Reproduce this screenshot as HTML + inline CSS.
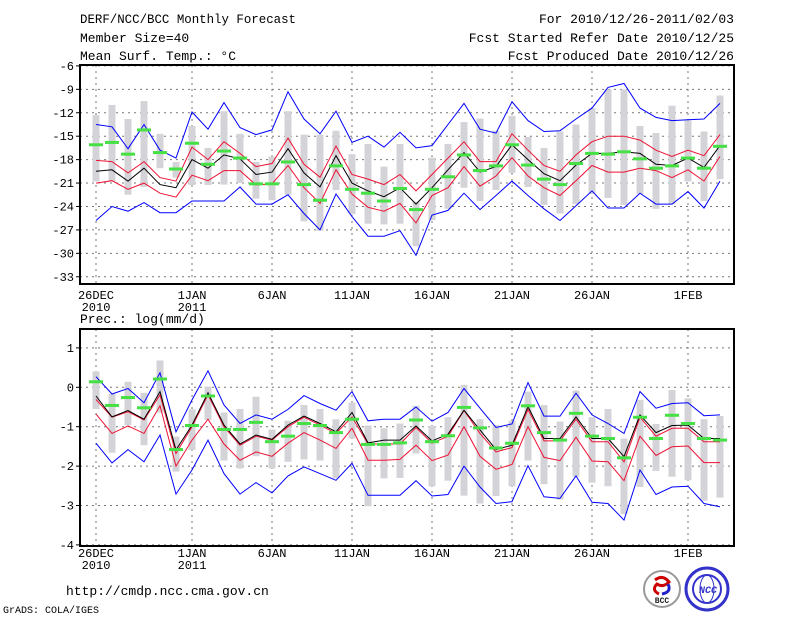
<!DOCTYPE html>
<html><head><meta charset="utf-8">
<style>
html,body{margin:0;padding:0;background:#fff;}
svg{display:block;font-family:"Liberation Mono","DejaVu Sans Mono",monospace;}
</style></head>
<body>
<svg id="c" width="800" height="618" viewBox="0 0 800 618" xmlns="http://www.w3.org/2000/svg">
<g font-size="13" fill="#000">
<text x="80" y="23" textLength="216" lengthAdjust="spacingAndGlyphs">DERF/NCC/BCC Monthly Forecast</text>
<text x="80" y="42">Member Size=40</text>
<text x="80" y="60">Mean Surf. Temp.: °C</text>
<text x="734" y="23" text-anchor="end">For 2010/12/26-2011/02/03</text>
<text x="734" y="42" text-anchor="end">Fcst Started Refer Date 2010/12/25</text>
<text x="734" y="60" text-anchor="end">Fcst Produced Date 2010/12/26</text>
<text x="80" y="323">Prec.: log(mm/d)</text>
<text x="66" y="595">http://cmdp.ncc.cma.gov.cn</text>
<text x="3" y="613" font-size="10">GrADS: COLA/IGES</text>
</g>
<g id="top"></g>
<g id="bot"></g>
<g>
<circle cx="662" cy="589" r="18" fill="#fff" stroke="#999" stroke-width="2"/>
<path d="M655 580 q8 -6 14 2 q-6 6 -12 2 q-6 6 2 10" fill="none" stroke="#c00" stroke-width="3"/>
<path d="M668 584 q4 8 -6 10" fill="none" stroke="#22c" stroke-width="3"/>
<text x="662" y="603" font-size="8" font-weight="bold" text-anchor="middle" fill="#222">BCC</text>
</g>
<g>
<circle cx="707" cy="589" r="21" fill="#fff" stroke="#33c" stroke-width="3"/>
<circle cx="707" cy="589" r="14" fill="none" stroke="#33c" stroke-width="2"/>
<ellipse cx="707" cy="589" rx="7" ry="14" fill="none" stroke="#33c" stroke-width="1"/>
<text x="708" y="593" font-size="10" font-weight="bold" font-style="italic" text-anchor="middle" fill="#33c">NCC</text>
</g>
</svg>
<script>
const dayLabels = ["26DEC","1JAN","6JAN","11JAN","16JAN","21JAN","26JAN","1FEB"];
const dayLabelIdx = [0,6,11,16,21,26,31,37];
const yearLabels = ["2010","2011"];
const tTicks = [-6,-9,-12,-15,-18,-21,-24,-27,-30,-33];
const pTicks = [1,0,-1,-2,-3,-4];

const tBlueHi = [-13.5,-13.8,-16.6,-13.5,-16.8,-17.8,-11.9,-14.1,-10.7,-13.9,-14.8,-14.2,-9.3,-12.8,-14.7,-11.8,-15.8,-15,-16.4,-14.5,-16.5,-16.2,-13.5,-10.8,-14.1,-14.6,-10.6,-13,-14.4,-14.3,-12.8,-11.4,-8.75,-8.25,-11.4,-12.6,-13,-12.9,-12.8,-10.8];
const tBlueLo = [-25.8,-24,-24.6,-23.5,-24.8,-24.8,-23.3,-23.3,-23.3,-21.5,-23.7,-23.7,-22.5,-24.9,-27,-22.4,-25.3,-27.8,-27.8,-27.1,-30.25,-25.1,-24.5,-22.3,-24.4,-22.6,-20.75,-22.6,-24.3,-25.8,-23.9,-22,-24.2,-24.2,-22.3,-23.7,-23.7,-22.1,-24.2,-20.75];
const tMean = [-19.5,-19.3,-20.75,-19.1,-21.2,-21.6,-18,-19.1,-17.4,-17.9,-19.9,-19.6,-16.6,-19.7,-21.5,-17.5,-21,-22,-22.75,-21.6,-23.7,-21.6,-19.3,-17.1,-19.6,-18.9,-16.1,-18,-19.8,-20.7,-18.7,-17.2,-17.2,-17,-17.2,-18.6,-18.75,-17.8,-19,-16.2];
const tRedHi = [-18.1,-18.25,-19.7,-18.25,-20.3,-20.75,-16.4,-18,-15.7,-17.2,-18.9,-18.5,-15.25,-18.6,-20.25,-16.25,-19.9,-20.5,-21.2,-19.9,-22,-19.9,-17.8,-15.7,-18.25,-18.25,-14.7,-16.8,-18.75,-19.5,-17.4,-15.7,-15,-15,-15.5,-16.8,-17.6,-16.8,-17.5,-14.8];
const tRedLo = [-21,-20.7,-21.8,-21,-22.3,-22.8,-20,-20.7,-19.4,-19.4,-21.25,-21.1,-18.75,-21.6,-23.6,-19.3,-22.4,-24.1,-24.6,-23.6,-26.1,-22.6,-21.6,-18.9,-21.4,-20.1,-17.75,-20.1,-21.6,-22.6,-20.7,-18.75,-19.6,-19.6,-19.1,-19.4,-20.3,-19.3,-20.75,-17.6];
const tGreen = [-16.1,-15.8,-17.3,-14.2,-17.1,-19.2,-15.9,-18.6,-16.9,-17.8,-21.1,-21.1,-18.3,-21.2,-23.2,-18.8,-21.8,-22.3,-23.3,-21.7,-24.4,-21.8,-20.2,-17.4,-19.4,-18.8,-16.1,-18.7,-20.5,-21.2,-18.5,-17.2,-17.3,-17,-17.9,-19.1,-18.8,-17.8,-19.1,-16.3];
const tBarHi = [-12.3,-11,-12.8,-10.5,-14.7,-18.3,-13.7,-16.5,-11.8,-14.7,-18.3,-17.6,-11.8,-14.8,-14.8,-14.3,-17.3,-16,-18.9,-16,-23.4,-17.75,-16,-13.2,-12.75,-14.3,-12.4,-15.1,-16.5,-14.4,-13.5,-11.4,-9,-9,-13.7,-14.6,-11.1,-13,-14.4,-9.8];
const tBarLo = [-20.8,-20.8,-22.5,-21.5,-19.1,-20.3,-21.25,-21.25,-21.2,-21,-23,-23.2,-22.5,-25.9,-27.1,-21.9,-25,-26.2,-26.3,-26.2,-29.1,-25.75,-24.3,-21.6,-23.3,-21.9,-19.7,-21.5,-23.8,-24.9,-23.7,-22.4,-22.9,-23.8,-22.4,-24.3,-23.7,-20.8,-23.3,-20.5];

const pBlueHi = [0.27,-0.17,-0.03,-0.39,0.37,-1.13,-0.32,0.42,-0.45,-0.92,-0.7,-0.81,-0.56,-0.21,-0.41,-0.58,-0.11,-0.85,-0.81,-0.81,-0.5,-0.86,-0.64,-0.03,-0.53,-1.02,-0.93,0.12,-0.73,-0.73,-0.15,-0.7,-0.92,-1.17,-0.11,-0.53,-0.41,-0.39,-0.72,-0.7];
const pBlueLo = [-1.42,-1.92,-1.58,-1.89,-1.21,-2.71,-2.1,-1.34,-2.19,-2.71,-2.42,-2.68,-2.25,-2.02,-2.19,-2.36,-1.93,-2.74,-2.74,-2.74,-2.37,-2.76,-2.72,-2,-2.53,-2.95,-2.9,-1.99,-2.78,-2.82,-2.25,-2.92,-2.95,-3.37,-2.1,-2.72,-2.53,-2.51,-2.95,-3.03];
const pMean = [-0.22,-0.75,-0.59,-0.81,-0.11,-1.59,-0.96,-0.14,-0.96,-1.44,-1.21,-1.32,-0.96,-0.73,-0.92,-1.13,-0.64,-1.41,-1.34,-1.34,-0.98,-1.36,-1.19,-0.58,-1.08,-1.58,-1.47,-0.49,-1.3,-1.3,-0.75,-1.3,-1.3,-1.76,-0.7,-1.15,-0.97,-0.96,-1.3,-1.3];
const pRedHi = [-0.31,-0.76,-0.62,-0.83,-0.19,-1.68,-1,-0.19,-1,-1.47,-1.24,-1.34,-1,-0.76,-0.96,-1.17,-0.75,-1.44,-1.44,-1.44,-1.02,-1.42,-1.24,-0.59,-1.17,-1.64,-1.53,-0.56,-1.36,-1.36,-0.81,-1.38,-1.38,-1.89,-0.76,-1.24,-1.04,-1.04,-1.38,-1.38];
const pRedLo = [-0.68,-1.17,-0.98,-1.17,-0.47,-2,-1.34,-0.81,-1.44,-1.85,-1.64,-1.75,-1.42,-1.15,-1.34,-1.55,-1.04,-1.85,-1.85,-1.83,-1.47,-1.86,-1.72,-1,-1.75,-2.08,-1.96,-1,-1.78,-1.86,-1.27,-1.87,-1.89,-2.37,-1.24,-1.73,-1.51,-1.49,-1.91,-1.91];
const pGreen = [0.14,-0.46,-0.26,-0.52,0.21,-1.58,-0.97,-0.22,-1.07,-1.07,-0.89,-1.38,-1.24,-0.92,-0.97,-1.15,-0.81,-1.45,-1.45,-1.41,-0.83,-1.38,-1.23,-0.51,-1.03,-1.54,-1.42,-0.47,-1.15,-1.34,-0.66,-1.24,-1.3,-1.79,-0.76,-1.3,-0.71,-0.92,-1.3,-1.34];
const pBarHi = [0.4,-0.17,0.14,-0.14,0.68,-1.25,-0.56,0.02,-0.64,-0.55,-0.24,-1.07,-0.85,-0.45,-0.55,-0.81,-0.39,-0.97,-1.04,-0.92,-0.47,-0.98,-0.76,0.06,-0.81,-0.96,-0.85,-0.11,-0.45,-0.87,-0.08,-0.76,-0.55,-1.3,-0.32,-0.93,-0.07,-0.28,-0.81,-0.73];
const pBarLo = [-0.55,-1.66,-0.96,-1.47,-0.64,-2.14,-1.59,-0.83,-1.86,-2.06,-1.75,-2.06,-1.89,-1.83,-1.86,-2.31,-1.3,-3.02,-2.31,-2.3,-1.68,-2.51,-2.37,-2.75,-2.95,-2.76,-2.51,-1.86,-2.46,-2.85,-2.27,-2.42,-2.51,-3.22,-2.53,-2.12,-2.27,-2.36,-2.88,-2.8];

const NS = "http://www.w3.org/2000/svg";
function mk(parent, tag, attrs){const e=document.createElementNS(NS,tag);for(const k in attrs)e.setAttribute(k,attrs[k]);parent.appendChild(e);return e;}
const xOf = d => 96 + 16*d;
const L = 80, R = 734;

function panel(g, top, bottom, yOf, ticks, labY, series){
  ticks.forEach(t=>{
    const y=yOf(t);
    const ln=mk(g,'line',{x1:L,x2:R,y1:y,y2:y,stroke:'#777','stroke-dasharray':'2,4','stroke-width':1});
    
    
    const tx=mk(g,'text',{x:L-6,y:y+4,'text-anchor':'end','font-size':12});
    tx.textContent=String(t);
    
    
    const tk=mk(g,'line',{x1:L-4,x2:L,y1:y,y2:y,stroke:'#000'});
    
    
  });
  dayLabelIdx.forEach((d,i)=>{
    const x=xOf(d);
    const ln=mk(g,'line',{x1:x,x2:x,y1:top,y2:bottom,stroke:'#777','stroke-dasharray':'2,4','stroke-width':1});
    
    
    const tx=mk(g,'text',{x:x,y:labY,'text-anchor':'middle','font-size':12});
    tx.textContent=dayLabels[i];
    
    
    if(i<2){
      const ty=mk(g,'text',{x:x,y:labY+12,'text-anchor':'middle','font-size':12});
      ty.textContent=yearLabels[i];
      
      
    }
  });
  series.barHi.forEach((v,d)=>{
    const y1=yOf(v), y2=yOf(series.barLo[d]);
    const b=mk(g,'rect',{x:xOf(d)-3.5,y:y1,width:7,height:Math.max(1,y2-y1),fill:'#d4d4d8'});
    
    
  });
  const line=(arr,color,name)=>{
    const p=mk(g,'polyline',{points:arr.map((v,d)=>xOf(d)+','+yOf(v).toFixed(1)).join(' '),fill:'none',stroke:color,'stroke-width':1});
    
    
  };
  line(series.blueHi,'#0000ff','upper-envelope-line');
  line(series.blueLo,'#0000ff','lower-envelope-line');
  line(series.redHi,'#ee1133','upper-spread-line');
  line(series.redLo,'#ee1133','lower-spread-line');
  line(series.mean,'#000000','ensemble-mean-line');
  series.green.forEach((v,d)=>{
    const r=mk(g,'rect',{x:xOf(d)-7,y:yOf(v)-1.5,width:14,height:3,fill:'#44e044'});
    
    
  });
  const f=mk(g,'rect',{x:L,y:top,width:R-L,height:bottom-top,fill:'none',stroke:'#000','stroke-width':2});
  
  
}

const yT = v => 65.9 + (-6 - v)*7.81;
const yP = v => 387.3 - v*39.4;
panel(document.getElementById('top'), 65, 284, yT, tTicks, 299,
  {barHi:tBarHi,barLo:tBarLo,blueHi:tBlueHi,blueLo:tBlueLo,redHi:tRedHi,redLo:tRedLo,mean:tMean,green:tGreen});
panel(document.getElementById('bot'), 329, 546, yP, pTicks, 557,
  {barHi:pBarHi,barLo:pBarLo,blueHi:pBlueHi,blueLo:pBlueLo,redHi:pRedHi,redLo:pRedLo,mean:pMean,green:pGreen});
</script>
</body></html>
